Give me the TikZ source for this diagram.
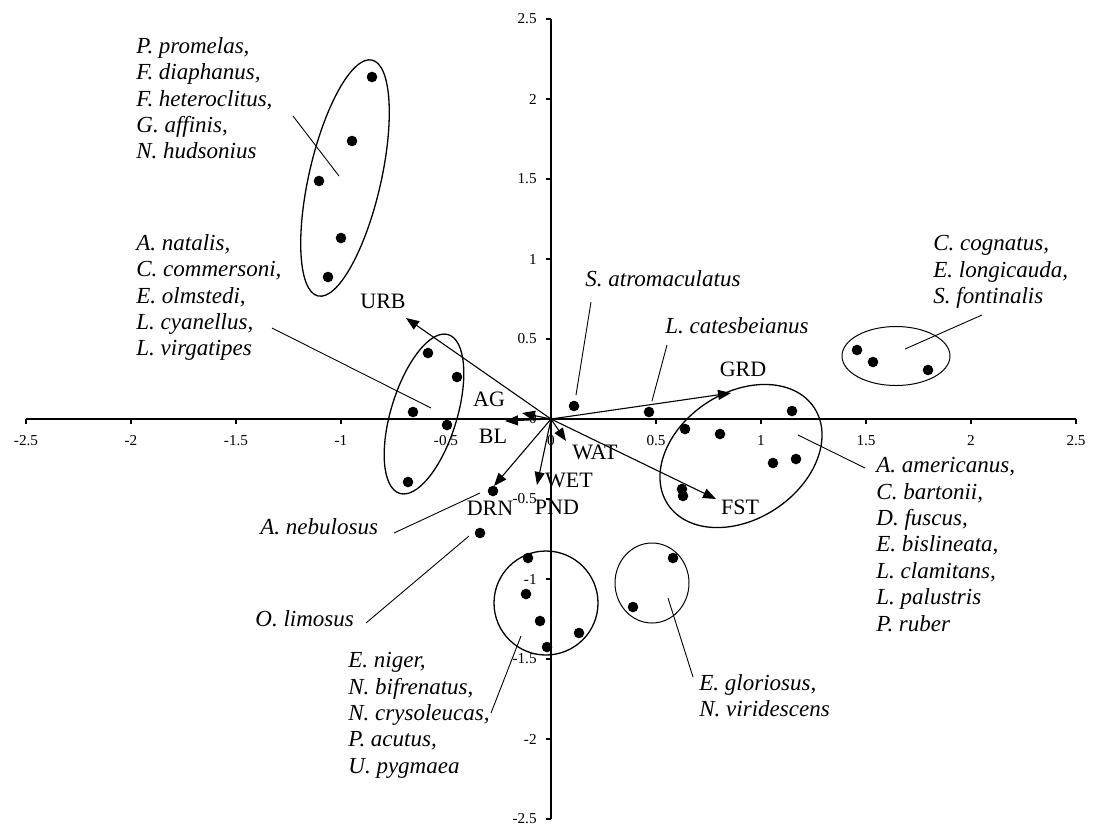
\documentclass[tikz,border=0pt]{standalone}
\usepackage{fontspec}
\setmainfont{Liberation Serif}
\usetikzlibrary{shapes.geometric,arrows.meta}
\begin{document}
\begin{tikzpicture}[x=0.5pt,y=-0.5pt,
  axisline/.style={line width=0.65pt},
  ticklabel/.style={font=\fontsize{7.6}{9}\selectfont, inner sep=0pt},
  vec/.style={line width=0.55pt, -{Triangle[length=6.5pt,width=5pt]}},
  veclabel/.style={font=\fontsize{11}{13}\selectfont, inner sep=0pt},
  species/.style={font=\fontsize{11.5}{13.2}\selectfont\itshape, inner sep=0pt, align=left},
  grp/.style={draw, ellipse, line width=0.65pt, inner sep=0pt},
  spdot/.style={circle, fill, inner sep=0pt, minimum size=5.3pt},
  leader/.style={line width=0.45pt}]
\useasboundingbox (0,0) rectangle (1093,827);
% axes
\coordinate (xl) at (26,419);
\coordinate (xr) at (1076,419);
\coordinate (yt) at (551,19);
\coordinate (yb) at (551,819);
\coordinate (O) at (551,419);
\draw[axisline] (xl) -- (xr);
\draw[axisline] (yt) -- (yb);
\foreach \x/\t [count=\i] in {26/-2.5,131/-2,236/-1.5,341/-1,446/-0.5,551/0,656/0.5,761/1,866/1.5,971/2,1076/2.5}{
  \draw[axisline] (\x,419) -- (\x,424);
  \node[ticklabel, anchor=base] (xt\i) at (\x,445) {\t};
}
\foreach \y/\t [count=\i] in {19/2.5,99/2,179/1.5,259/1,339/0.5,419/0,499/-0.5,579/-1,659/-1.5,739/-2,819/-2.5}{
  \draw[axisline] (546,\y) -- (551,\y);
  \node[ticklabel, anchor=east] (ytl\i) at (537,\y) {\t};
}
% group outlines
\node[grp, minimum width=121pt, minimum height=36pt, rotate=77.1] (g1) at (345,178) {};
\node[grp, minimum width=83pt, minimum height=33pt, rotate=73] (g2) at (424,414) {};
\node[grp, line width=0.5pt, minimum width=54pt, minimum height=29.5pt] (g3) at (896,356) {};
\node[grp, minimum width=87.7pt, minimum height=63.2pt, rotate=33.5] (g4) at (741,456) {};
\node[grp, minimum width=52pt, minimum height=52pt] (g5) at (546,603) {};
\node[grp, line width=0.5pt, minimum width=37pt, minimum height=40pt] (g6) at (652,583) {};
% vectors
\coordinate (tURB) at (406,318);
\coordinate (tAG) at (522,413);
\coordinate (tBL) at (505,421);
\coordinate (tDRN) at (494,486);
\coordinate (tWET) at (537,485);
\coordinate (tWAT) at (566,441);
\coordinate (tFST) at (716,499);
\coordinate (tGRD) at (731,393);
\foreach \n in {URB,AG,BL,DRN,WET,WAT,FST,GRD}{
  \draw[vec] (O) -- (t\n);
}
\node[veclabel] (lURB) at (383,301) {URB};
\node[veclabel] (lAG) at (489,399) {AG};
\node[veclabel] (lBL) at (493,436) {BL};
\node[veclabel] (lDRN) at (490,508) {DRN};
\node[veclabel] (lWET) at (569,480) {WET};
\node[veclabel] (lPND) at (557,507) {PND};
\node[veclabel] (lWAT) at (595,452) {WAT};
\node[veclabel] (lFST) at (740,507) {FST};
\node[veclabel] (lGRD) at (743,369) {GRD};
% species points
\foreach \p [count=\i] in {(372,77),(352,141),(319,181),(341,238),(328,277),
  (428,353),(457,377),(413,412),(447,425),(408,482),
  (574,406),(649,412),
  (857,350),(873,362),(928,370),
  (685,429),(720,434),(792,411),(773,463),(796,459),(682,489),(683,496),
  (493,491),(480,533),
  (528,558),(526,594),(540,621),(547,647),(579,633),
  (673,558),(633,607)}{
  \node[spdot] (p\i) at \p {};
}
% species labels
\node[species, anchor=north west] (s1) at (136,37) {P. promelas,\\F. diaphanus,\\F. heteroclitus,\\G. affinis,\\N. hudsonius};
\node[species, anchor=north west] (s2) at (136,234) {A. natalis,\\C. commersoni,\\E. olmstedi,\\L. cyanellus,\\L. virgatipes};
\node[species, anchor=west] (s3) at (585,279) {S. atromaculatus};
\node[species, anchor=west] (s4) at (665,326) {L. catesbeianus};
\node[species, anchor=north west] (s5) at (933,235) {C. cognatus,\\E. longicauda,\\S. fontinalis};
\node[species, anchor=north west] (s6) at (876,457) {A. americanus,\\C. bartonii,\\D. fuscus,\\E. bislineata,\\L. clamitans,\\L. palustris\\P. ruber};
\node[species, anchor=west] (s7) at (260,527) {A. nebulosus};
\node[species, anchor=west] (s8) at (255,619) {O. limosus};
\node[species, anchor=north west] (s9) at (348,652) {E. niger,\\N. bifrenatus,\\N. crysoleucas,\\P. acutus,\\U. pygmaea};
\node[species, anchor=north west] (s10) at (699,674) {E. gloriosus,\\N. viridescens};
% leader lines
\coordinate (la1) at (293,116);  \coordinate (lb1) at (339,176);
\coordinate (la2) at (272,328);  \coordinate (lb2) at (431,408);
\coordinate (la3) at (576,395);  \coordinate (lb3) at (591,302);
\coordinate (la4) at (652,401);  \coordinate (lb4) at (667,345);
\coordinate (la5) at (905,349);  \coordinate (lb5) at (982,315);
\coordinate (la6) at (798,435);  \coordinate (lb6) at (865,468);
\coordinate (la7) at (480,493);  \coordinate (lb7) at (394,533);
\coordinate (la8) at (469,536);  \coordinate (lb8) at (366,623);
\coordinate (la9) at (521,636);  \coordinate (lb9) at (491,713);
\coordinate (la10) at (668,598); \coordinate (lb10) at (693,677);
\foreach \i in {1,...,10}{
  \draw[leader] (la\i) -- (lb\i);
}
\end{tikzpicture}
\end{document}
